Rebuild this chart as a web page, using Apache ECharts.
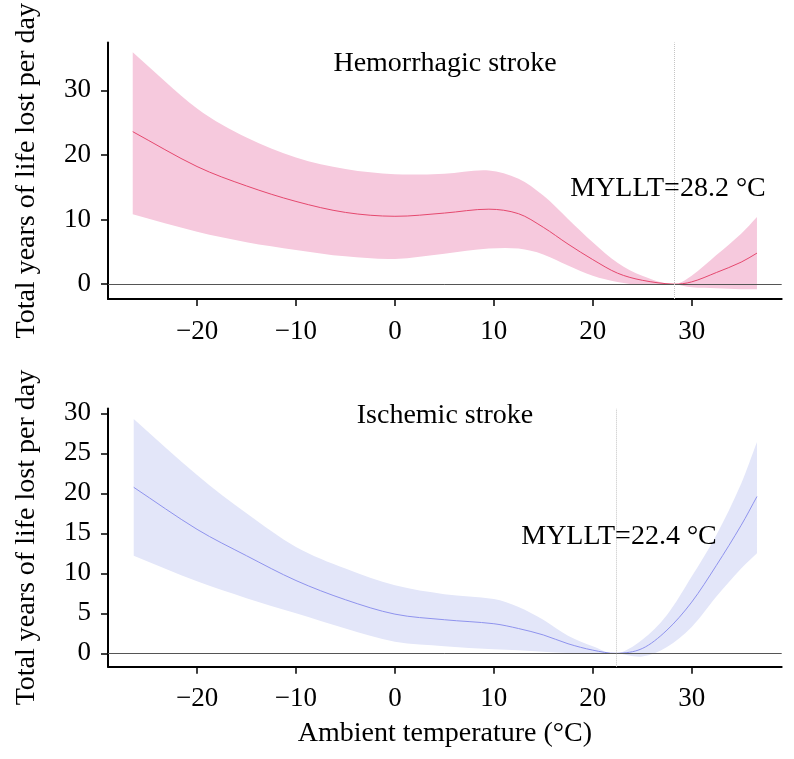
<!DOCTYPE html>
<html>
<head>
<meta charset="utf-8">
<script src="https://cdn.jsdelivr.net/npm/echarts@6/dist/echarts.min.js"></script>
<style>
html,body{margin:0;padding:0;background:#fff;}
#chart{width:794px;height:759px;}
</style>
</head>
<body>
<div id="chart"></div>
<script>
// ---- Data ----
var tempsH  = [-26.5, -20, -15, -10, -5, 0, 5, 9.5, 12.5, 15, 17.5, 20, 22.5, 25, 28.2, 30, 32.5, 35, 36.6];
var rrH     = [23.6, 18.2, 15.2, 12.8, 11.1, 10.5, 11.0, 11.6, 10.9, 8.8, 6.2, 3.8, 1.7, 0.6, 0, 0.35, 1.8, 3.4, 4.8];
var upperH  = [35.9, 27.2, 22.7, 19.6, 17.8, 17.0, 17.1, 17.6, 16.3, 13.7, 10.1, 6.5, 3.3, 1.3, 0, 1.3, 4.5, 7.8, 10.4];
var lowerH  = [10.8, 8.1, 6.5, 5.3, 4.3, 3.9, 4.7, 5.5, 5.5, 4.6, 2.9, 1.3, 0.35, -0.1, 0, -0.5, -0.65, -0.8, -0.8];

var tempsI  = [-26.4, -20, -15, -10, -5, 0, 5, 10, 12.5, 15, 17.5, 20, 22.4, 25, 27.5, 30, 32.5, 35, 36.6];
var rrI     = [20.75, 15.5, 12.2, 9.1, 6.7, 4.9, 4.2, 3.7, 3.1, 2.3, 1.2, 0.4, 0, 0.6, 2.9, 6.4, 11.0, 16.0, 19.6];
var upperI  = [29.3, 22.3, 17.5, 13.3, 10.6, 8.5, 7.4, 6.8, 5.8, 4.2, 2.2, 0.9, 0, 1.7, 4.8, 9.6, 14.8, 21.2, 26.4];
var lowerI  = [12.2, 9.0, 6.9, 5.0, 3.1, 1.45, 0.9, 0.5, 0.4, 0.2, 0.05, 0, 0, -0.4, 0.8, 3.3, 7.1, 10.6, 12.5];

var myllt = [28.2, 22.4];
var titles = ['Hemorrhagic stroke', 'Ischemic stroke'];
var xTicks = [-20, -10, 0, 10, 20, 30];
var yTicksH = [0, 10, 20, 30];
var yTicksI = [0, 5, 10, 15, 20, 25, 30];

// ---- Chart ----
var FONT = "'Liberation Serif','Times New Roman',serif";
var FS = 28, FST = 27;
function pairs(xs, ys) { return xs.map(function (x, i) { return [x, ys[i]]; }); }
function fmt(v) { return v < 0 ? '\u2212' + Math.abs(v) : String(v); }

// smooth curve through pixel points (cubic Hermite, x-parameterised)
function curveSegs(p, moveFirst) {
  var n = p.length, m = [], d = '';
  for (var i = 0; i < n; i++) {
    var a = p[Math.max(0, i - 1)], b = p[Math.min(n - 1, i + 1)];
    m.push((b[1] - a[1]) / (b[0] - a[0]));
  }
  d += (moveFirst ? 'M' : 'L') + p[0][0] + ' ' + p[0][1];
  for (var j = 0; j < n - 1; j++) {
    var dx = (p[j + 1][0] - p[j][0]) / 3;
    d += ' C' + (p[j][0] + dx) + ' ' + (p[j][1] + m[j] * dx) + ' ' +
         (p[j + 1][0] - dx) + ' ' + (p[j + 1][1] - m[j + 1] * dx) + ' ' +
         p[j + 1][0] + ' ' + p[j + 1][1];
  }
  return d;
}

var grids = [
  { left: 108, top: 41, width: 673.7, height: 258 },
  { left: 108, top: 408.5, width: 673.7, height: 258.2 }
];

function xAxisDef(gi, showName) {
  return {
    type: 'value', gridIndex: gi, min: -29, max: 39.1,
    axisLine: { show: true, onZero: false, lineStyle: { color: '#000', width: 2 } },
    axisTick: { show: true, length: 7, inside: false, customValues: xTicks, lineStyle: { color: '#000', width: 1.5 } },
    axisLabel: { customValues: xTicks, formatter: fmt, margin: 19, color: '#000', fontFamily: FONT, fontSize: FST },
    splitLine: { show: false },
    name: showName ? 'Ambient temperature (\u00B0C)' : '',
    nameLocation: 'middle', nameGap: 53,
    nameTextStyle: { color: '#000', fontFamily: FONT, fontSize: FS }
  };
}
function yAxisDef(gi, mn, mx, ticks) {
  return {
    type: 'value', gridIndex: gi, min: mn, max: mx,
    axisLine: { show: true, onZero: false, lineStyle: { color: '#000', width: 2 } },
    axisTick: { show: true, length: 7, customValues: ticks, lineStyle: { color: '#000', width: 1.5 } },
    axisLabel: { customValues: ticks, formatter: fmt, margin: 17, color: '#000', fontFamily: FONT, fontSize: FST },
    splitLine: { show: false },
    name: 'Total years of life lost per day',
    nameLocation: 'middle', nameGap: 67,
    nameTextStyle: { color: '#000', fontFamily: FONT, fontSize: FS }
  };
}

function panelSeries(gi, xs, rr, up, lo, bandColor, lineColor, mv) {
  return [
    { // confidence band
      type: 'custom', xAxisIndex: gi, yAxisIndex: gi, data: pairs(xs, rr), silent: true, z: 1,
      renderItem: function (params, api) {
        if (params.dataIndex !== 0) return null;
        var pu = xs.map(function (x, i) { return api.coord([x, up[i]]); });
        var pl = xs.map(function (x, i) { return api.coord([x, lo[i]]); }).reverse();
        var d = curveSegs(pu, true) + ' ' + curveSegs(pl, false) + ' Z';
        return { type: 'path', shape: { pathData: d }, style: { fill: bandColor, stroke: null } };
      }
    },
    { // central estimate
      type: 'custom', xAxisIndex: gi, yAxisIndex: gi, data: pairs(xs, rr), silent: true, z: 3,
      renderItem: function (params, api) {
        if (params.dataIndex !== 0) return null;
        var pc = xs.map(function (x, i) { return api.coord([x, rr[i]]); });
        return { type: 'path', shape: { pathData: curveSegs(pc, true) }, style: { fill: null, stroke: lineColor, lineWidth: 1 } };
      }
    },
    { // reference lines
      type: 'line', xAxisIndex: gi, yAxisIndex: gi, data: pairs(xs, rr), symbol: 'none',
      lineStyle: { opacity: 0 }, silent: true, z: 4,
      markLine: {
        silent: true, symbol: 'none', animation: false, label: { show: false },
        data: [
          { yAxis: 0, lineStyle: { color: '#555', width: 1, type: 'solid' } },
          { xAxis: mv, lineStyle: { color: '#c4c4c4', width: 1, type: 'dotted' } }
        ]
      }
    }
  ];
}

var tStyle = { fontFamily: FONT, fontSize: FS, fontWeight: 'normal', color: '#000' };
var chart = echarts.init(document.getElementById('chart'), null, { renderer: 'canvas' });
chart.setOption({
  animation: false,
  backgroundColor: '#fff',
  title: [
    { text: titles[0], left: 440, top: 45, textAlign: 'center', textStyle: tStyle },
    { text: titles[1], left: 440, top: 397, textAlign: 'center', textStyle: tStyle },
    { text: 'MYLLT=' + myllt[0] + ' \u00B0C', left: 663, top: 170, textAlign: 'center', textStyle: tStyle },
    { text: 'MYLLT=' + myllt[1] + ' \u00B0C', left: 614, top: 518, textAlign: 'center', textStyle: tStyle }
  ],
  grid: grids,
  xAxis: [xAxisDef(0, false), xAxisDef(1, true)],
  yAxis: [yAxisDef(0, -2.3, 37.4, yTicksH), yAxisDef(1, -1.67, 30.6, yTicksI)],
  series: [].concat(
    panelSeries(0, tempsH, rrH, upperH, lowerH, '#f6c9dd', '#e5486e', myllt[0]),
    panelSeries(1, tempsI, rrI, upperI, lowerI, '#e3e6f9', '#8f93ee', myllt[1])
  )
});
</script>
</body>
</html>
